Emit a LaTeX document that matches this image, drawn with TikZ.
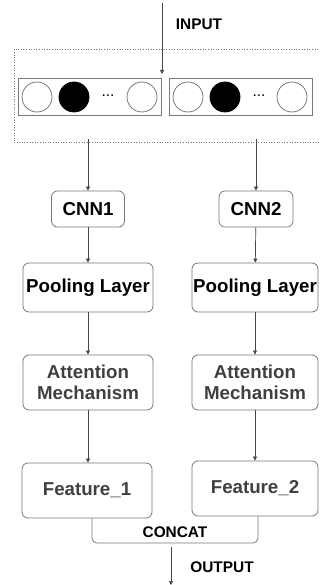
\documentclass[tikz,border=0pt]{standalone}
\usepackage{fontspec}
\setmainfont{Liberation Sans}
\usetikzlibrary{arrows.meta}
\definecolor{boxgray}{RGB}{120,120,120}
\definecolor{arrgray}{RGB}{70,70,70}
\definecolor{txtgray}{RGB}{64,64,64}
\begin{document}
\begin{tikzpicture}[x=1pt,y=-1pt,
	block/.style={draw=boxgray,line width=0.8pt,rounded corners=6pt,inner sep=0pt,
		align=center,font=\fontsize{18.7}{21}\selectfont\bfseries},
	unit/.style={draw=boxgray,line width=0.8pt,circle,minimum size=30pt,inner sep=0pt},
	arr/.style={draw=arrgray,line width=0.7pt,-{Triangle[length=4pt,width=4pt]}},
	lbl/.style={font=\fontsize{15.4}{17}\selectfont\bfseries}]
	\useasboundingbox (0,0) rectangle (320,585);
	\clip (0,0) rectangle (320,585);

	% input vectors
	\node (inbox) [draw=boxgray,dotted,line width=0.6pt,minimum width=316pt,minimum height=93pt,inner sep=0pt] at (172,95.5) {};
	\node (vec1) [draw=boxgray,line width=0.9pt,minimum width=143pt,minimum height=37pt,inner sep=0pt] at (89.5,96.5) {};
	\node (vec2) [draw=boxgray,line width=0.9pt,minimum width=143pt,minimum height=37pt,inner sep=0pt] at (240.5,96.5) {};
	\node (u1) [unit] at (37,97) {};
	\node (u2) [unit,fill=black,draw=black] at (74,97) {};
	\node (d1) [font=\fontsize{15.5}{17}\selectfont] at (108,96) {...};
	\node (u3) [unit] at (142,97) {};
	\node (u4) [unit] at (188,97) {};
	\node (u5) [unit,fill=black,draw=black] at (225,97) {};
	\node (d2) [font=\fontsize{15.5}{17}\selectfont] at (259,96) {...};
	\node (u6) [unit] at (292,97) {};

	\coordinate (top) at (162,3);
	\coordinate (intip) at (162,74);
	\draw[arr] (top) -- (intip);
	\node (input) [lbl] at (199,24) {INPUT};

	% left branch
	\node (cnn1) [block,minimum width=73pt,minimum height=36pt] at (88,209) {CNN1};
	\node (pool1) [block,minimum width=130pt,minimum height=49pt] at (88,287.5) {Pooling Layer};
	\node (att1) [block,text=txtgray,minimum width=130pt,minimum height=55pt] at (88,382.5) {Attention\\Mechanism};
	\node (feat1) [block,text=txtgray,minimum width=130pt,minimum height=55pt] at (87,490.5) {Feature\_1};

	% right branch
	\node (cnn2) [block,minimum width=74pt,minimum height=36pt] at (256,209) {CNN2};
	\node (pool2) [block,minimum width=126pt,minimum height=49pt] at (255,287.5) {Pooling Layer};
	\node (att2) [block,text=txtgray,minimum width=126pt,minimum height=55pt] at (255,382.5) {Attention\\Mechanism};
	\node (feat2) [block,text=txtgray,minimum width=126pt,minimum height=55pt] at (255,488.5) {Feature\_2};

	\draw[arr] ([yshift=3pt]inbox.south -| cnn1) -- (cnn1);
	\draw[arr] ([yshift=3pt]inbox.south -| cnn2) -- (cnn2);
	\draw[arr] (cnn1) -- (pool1);
	\draw[arr] (cnn2) -- (pool2);
	\draw[arr] (pool1) -- (att1);
	\draw[arr] (pool2) -- (att2);
	\draw[arr] (att1.south) -- (att1.south |- feat1.north);
	\draw[arr] (att2) -- (feat2);

	% concat and output
	\coordinate (cc) at (175,543);
	\draw[draw=boxgray,line width=0.8pt,rounded corners=5pt] ([xshift=5pt]feat1.south) |- (cc) -| ([xshift=3pt]feat2.south);
	\node (concat) [lbl] at (175,532) {CONCAT};
	\coordinate (outtop) at (171,547);
	\coordinate (outend) at (171,585);
	\draw[arr] (outtop) -- (outend);
	\node (output) [lbl] at (222,567) {OUTPUT};
\end{tikzpicture}
\end{document}
